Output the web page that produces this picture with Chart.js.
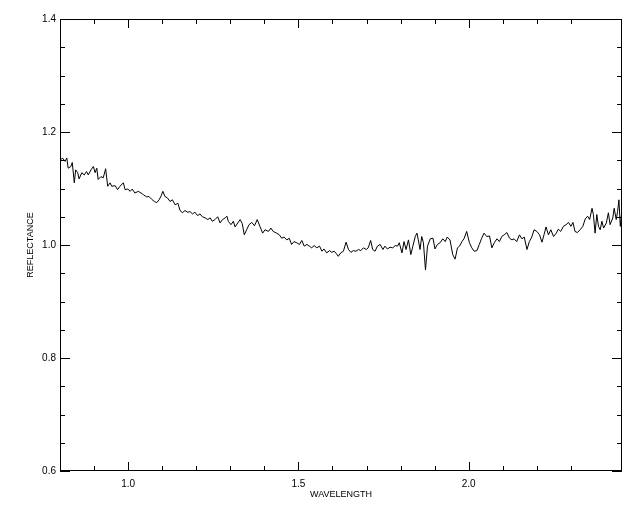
<!DOCTYPE html>
<html>
<head>
<meta charset="utf-8">
<script src="https://cdn.jsdelivr.net/npm/chart.js@4/dist/chart.umd.min.js"></script>
<style>
  html, body { margin: 0; padding: 0; background: #fff; }
  #wrap { width: 640px; height: 512px; }
</style>
</head>
<body>
<div id="wrap"><canvas id="spectrum" width="640" height="512"></canvas></div>
<script>
// spectrum (wavelength in microns, reflectance)
const wavelength = [
  0.803, 0.807, 0.815, 0.820, 0.824, 0.832, 0.836, 0.842, 0.846, 0.852,
  0.856, 0.864, 0.871, 0.878, 0.883, 0.891, 0.898, 0.903, 0.908, 0.912,
  0.920, 0.927, 0.934, 0.940, 0.947, 0.952, 0.962, 0.969, 0.976, 0.986,
  0.991, 0.999, 1.006, 1.012, 1.020, 1.030, 1.038, 1.045, 1.055, 1.061,
  1.069, 1.077, 1.084, 1.091, 1.097, 1.102, 1.108, 1.116, 1.123, 1.130,
  1.138, 1.146, 1.152, 1.159, 1.167, 1.175, 1.182, 1.189, 1.196, 1.204,
  1.211, 1.218, 1.226, 1.234, 1.241, 1.247, 1.255, 1.263, 1.270, 1.277,
  1.285, 1.290, 1.294, 1.302, 1.309, 1.314, 1.322, 1.329, 1.335, 1.341,
  1.348, 1.355, 1.363, 1.371, 1.379, 1.387, 1.395, 1.402, 1.412, 1.419,
  1.426, 1.436, 1.444, 1.451, 1.458, 1.466, 1.473, 1.480, 1.487, 1.495,
  1.503, 1.510, 1.517, 1.525, 1.532, 1.539, 1.546, 1.554, 1.562, 1.569,
  1.575, 1.583, 1.591, 1.598, 1.605, 1.611, 1.617, 1.624, 1.632, 1.640,
  1.647, 1.654, 1.661, 1.669, 1.676, 1.683, 1.691, 1.699, 1.705, 1.712,
  1.718, 1.725, 1.732, 1.740, 1.748, 1.754, 1.761, 1.769, 1.777, 1.784,
  1.791, 1.796, 1.804, 1.810, 1.816, 1.823, 1.830, 1.836, 1.843, 1.848,
  1.852, 1.857, 1.862, 1.867, 1.873, 1.879, 1.887, 1.895, 1.901, 1.908,
  1.916, 1.924, 1.931, 1.937, 1.945, 1.953, 1.960, 1.967, 1.973, 1.980,
  1.986, 1.994, 2.002, 2.009, 2.016, 2.024, 2.031, 2.038, 2.045, 2.053,
  2.061, 2.068, 2.075, 2.083, 2.090, 2.097, 2.104, 2.112, 2.120, 2.127,
  2.133, 2.141, 2.149, 2.156, 2.163, 2.171, 2.178, 2.185, 2.192, 2.200,
  2.208, 2.215, 2.221, 2.227, 2.234, 2.241, 2.249, 2.257, 2.263, 2.270,
  2.278, 2.286, 2.293, 2.300, 2.306, 2.312, 2.319, 2.327, 2.335, 2.342,
  2.349, 2.355, 2.362, 2.366, 2.371, 2.376, 2.381, 2.386, 2.391, 2.396,
  2.404, 2.410, 2.415, 2.423, 2.427, 2.433, 2.437, 2.441, 2.445, 2.448,
  2.450
]
const reflectance = [
  1.151, 1.154, 1.148, 1.154, 1.136, 1.139, 1.146, 1.110, 1.133, 1.128,
  1.117, 1.128, 1.124, 1.130, 1.124, 1.133, 1.139, 1.128, 1.136, 1.116,
  1.121, 1.119, 1.135, 1.104, 1.110, 1.104, 1.105, 1.098, 1.104, 1.110,
  1.098, 1.099, 1.095, 1.099, 1.092, 1.095, 1.092, 1.089, 1.085, 1.086,
  1.081, 1.077, 1.075, 1.080, 1.087, 1.095, 1.086, 1.083, 1.077, 1.080,
  1.071, 1.074, 1.062, 1.057, 1.061, 1.058, 1.059, 1.055, 1.058, 1.052,
  1.055, 1.050, 1.048, 1.045, 1.048, 1.042, 1.045, 1.050, 1.039, 1.045,
  1.048, 1.051, 1.042, 1.036, 1.042, 1.032, 1.039, 1.045, 1.038, 1.018,
  1.027, 1.036, 1.040, 1.034, 1.045, 1.033, 1.021, 1.027, 1.024, 1.030,
  1.024, 1.021, 1.018, 1.012, 1.014, 1.009, 1.012, 1.001, 1.006, 1.004,
  1.001, 1.008, 0.998, 1.001, 0.998, 0.995, 0.999, 0.995, 0.998, 0.989,
  0.993, 0.986, 0.990, 0.987, 0.989, 0.985, 0.980, 0.986, 0.989, 1.005,
  0.992, 0.987, 0.990, 0.989, 0.992, 0.990, 0.995, 0.992, 0.995, 1.008,
  0.992, 0.989, 0.998, 1.001, 0.992, 0.998, 0.993, 0.996, 0.995, 0.999,
  0.998, 1.004, 0.986, 1.006, 0.992, 1.009, 0.983, 0.998, 1.015, 1.021,
  1.009, 0.992, 1.015, 1.004, 0.956, 0.998, 1.011, 1.012, 0.993, 1.001,
  1.004, 1.011, 1.006, 1.014, 1.009, 0.983, 0.975, 0.995, 0.998, 1.006,
  1.011, 1.024, 1.004, 0.995, 0.989, 0.990, 1.001, 1.012, 1.021, 1.015,
  1.016, 0.995, 1.004, 1.011, 1.006, 1.015, 1.018, 1.022, 1.012, 1.009,
  1.011, 1.006, 1.018, 1.011, 1.014, 0.992, 1.006, 1.014, 1.027, 1.024,
  1.018, 1.005, 1.018, 1.032, 1.018, 1.027, 1.015, 1.021, 1.028, 1.024,
  1.033, 1.036, 1.040, 1.033, 1.040, 1.024, 1.022, 1.027, 1.033, 1.046,
  1.051, 1.045, 1.065, 1.054, 1.021, 1.054, 1.033, 1.027, 1.042, 1.030,
  1.039, 1.057, 1.036, 1.048, 1.065, 1.045, 1.059, 1.080, 1.033, 1.051,
  1.027
]

// axis ranges and tick spacing
const xRange = [0.8, 2.45]
const yRange = [0.6, 1.4]
const xStep = 0.1, xLabelStep = 0.5
const yStep = 0.05, yLabelStep = 0.2

const FONT = "'Liberation Sans', Arial, sans-serif"

function onStep(v, step) {
  const r = v / step
  return Math.abs(r - Math.round(r)) < 1e-6
}

// inward tick marks on all four sides, like the IDL plot
const boxTicks = {
  id: "boxTicks",
  afterDraw(chart) {
    const { ctx, chartArea: a, scales } = chart
    ctx.save()
    ctx.strokeStyle = "#000"
    ctx.lineWidth = 1
    ctx.strokeRect(a.left + 0.5, a.top + 0.5, a.right - a.left - 1, a.bottom - a.top - 1)
    ctx.beginPath()
    scales.x.ticks.forEach((t) => {
      if (!onStep(t.value, xStep)) return
      const px = Math.round(scales.x.getPixelForValue(t.value)) + 0.5
      const len = onStep(t.value, xLabelStep) ? 9 : 5
      ctx.moveTo(px, a.bottom); ctx.lineTo(px, a.bottom - len)
      ctx.moveTo(px, a.top); ctx.lineTo(px, a.top + len)
    })
    scales.y.ticks.forEach((t) => {
      if (!onStep(t.value, yStep)) return
      const py = Math.round(scales.y.getPixelForValue(t.value)) + 0.5
      const len = onStep(t.value, yLabelStep) ? 10 : 5
      ctx.moveTo(a.left, py); ctx.lineTo(a.left + len, py)
      ctx.moveTo(a.right, py); ctx.lineTo(a.right - len, py)
    })
    ctx.stroke()
    ctx.restore()
  },
}

new Chart(document.getElementById("spectrum"), {
  type: "line",
  data: {
    datasets: [
      {
        data: wavelength.map((w, i) => ({ x: w, y: reflectance[i] })),
        borderColor: "#000",
        borderWidth: 1,
        pointRadius: 0,
        tension: 0,
        fill: false,
      },
    ],
  },
  options: {
    responsive: false,
    animation: false,
    layout: { padding: { top: 19, right: 18, left: 0, bottom: 0 } },
    plugins: { legend: { display: false }, tooltip: { enabled: false } },
    scales: {
      x: {
        type: "linear",
        min: xRange[0],
        max: xRange[1],
        afterFit: (s) => { s.height = 41 },
        grid: { display: false, drawTicks: false },
        border: { display: false },
        ticks: {
          stepSize: xStep,
          autoSkip: false,
          maxRotation: 0,
          padding: 7,
          color: "#000",
          font: { family: FONT, size: 10 },
          callback: (v) => (onStep(v, xLabelStep) ? v.toFixed(1) : ""),
        },
        title: {
          display: true,
          text: "WAVELENGTH",
          color: "#000",
          font: { family: FONT, size: 9 },
          padding: { top: 0, bottom: 12 },
        },
      },
      y: {
        min: yRange[0],
        max: yRange[1],
        afterFit: (s) => { s.width = 60 },
        grid: { display: false, drawTicks: false },
        border: { display: false },
        ticks: {
          stepSize: yStep,
          autoSkip: false,
          padding: 4,
          color: "#000",
          font: { family: FONT, size: 10 },
          callback: (v) => (onStep(v, yLabelStep) ? v.toFixed(1) : ""),
        },
        title: {
          display: true,
          text: "REFLECTANCE",
          color: "#000",
          font: { family: FONT, size: 9 },
          padding: { top: 25, bottom: 0 },
        },
      },
    },
  },
  plugins: [boxTicks],
})
</script>
</body>
</html>
